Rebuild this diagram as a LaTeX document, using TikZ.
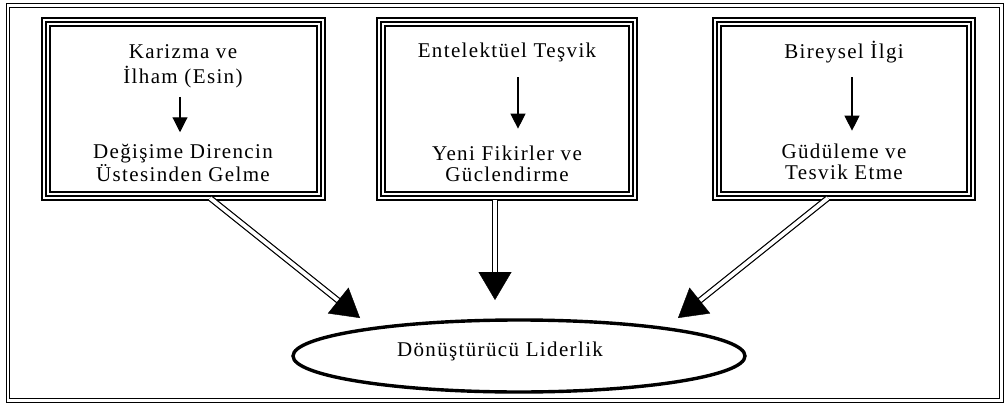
\documentclass[tikz,border=0pt]{standalone}
\usepackage{fontspec}
\setmainfont{Liberation Serif}[LetterSpace=6.5]
\usetikzlibrary{arrows.meta,calc,shapes.geometric}
\begin{document}
\begin{tikzpicture}[x=1pt,y=-1pt,
  txt/.style={align=center, inner sep=0pt, font=\fontsize{21}{25}\selectfont},
  txtb/.style={align=center, inner sep=0pt, font=\fontsize{21}{21.5}\selectfont},
  boxmid/.style={draw, line width=2.6pt, inner sep=0pt, outer sep=0pt, minimum height=174pt},
  thinline/.style={line width=1.1pt},
  sarr/.style={line width=1.1pt, -{Triangle[length=15pt,width=15pt]}},
  shaft/.style={double, line width=1.2pt, double distance=3.8pt, shorten >=22pt},
  head/.style={line width=0.4pt, -{Triangle[length=28pt,width=33pt]}},
  oval/.style={draw, ellipse, line width=3.4pt, inner sep=0pt, minimum width=452pt, minimum height=72pt}
]
\useasboundingbox (0,0) rectangle (1006,409);
% outer frame
\draw[double, line width=1.1pt, double distance=2.6pt] (8,5.5) rectangle (1001.5,400.5);

% boxes (middle thick line), then thin outer and inner lines
\foreach \n/\cx/\w in {b1/183.5/275, b2/507/252, b3/844/254}{
  \node[boxmid, minimum width=\w pt] (\n) at (\cx,109) {};
  \draw[thinline] ($(\n.north west)+(-4,-4)$) rectangle ($(\n.south east)+(4,4)$);
  \draw[thinline] ($(\n.north west)+(4,4)$) rectangle ($(\n.south east)+(-4,-4)$);
}

% texts
\node[txt]  (t1) at (183,66)  {Karizma ve\\İlham (Esin)};
\node[txtb] (u1) at (183,163) {Değişime Direncin\\Üstesinden Gelme};
\node[txt]  (t2) at (507,52.5){Entelektüel Teşvik};
\node[txtb] (u2) at (507,164) {Yeni Fikirler ve\\Güclendirme};
\node[txt]  (t3) at (844,52)  {Bireysel İlgi};
\node[txtb] (u3) at (844,162) {Güdüleme ve\\Tesvik Etme};

% inner arrows
\draw[sarr] ([shift={(-3pt,-9pt)}]t1.south) -- ([shift={(-3pt,12pt)}]u1.north);
\draw[sarr] ([shift={(11pt,-15pt)}]t2.south) -- ([shift={(11pt,17pt)}]u2.north);
\draw[sarr] ([shift={(8pt,-14pt)}]t3.south) -- ([shift={(8pt,13pt)}]u3.north);

% ellipse
\node[oval] (e) at (519,356) {};
\node[inner sep=0pt, font=\fontsize{21}{25}\selectfont] (et) at (500,351) {Dönüştürücü Liderlik};

% big arrows
\coordinate (s1) at ($(b1.south)+(26.5,2)$);
\coordinate (s2) at ($(b2.south)+(-12,4)$);
\coordinate (s3) at ($(b3.south)+(-16,2)$);
\coordinate (p1) at ($(e.center)+(-159,-38)$);
\coordinate (p2) at ($(e.center)+(-24,-56)$);
\coordinate (p3) at ($(e.center)+(159,-38)$);
\foreach \s/\p in {s1/p1, s2/p2, s3/p3}{
  \draw[shaft] (\s) -- (\p);
  \draw[head] ($(\p)!28pt!(\s)$) -- (\p);
}
\end{tikzpicture}
\end{document}
